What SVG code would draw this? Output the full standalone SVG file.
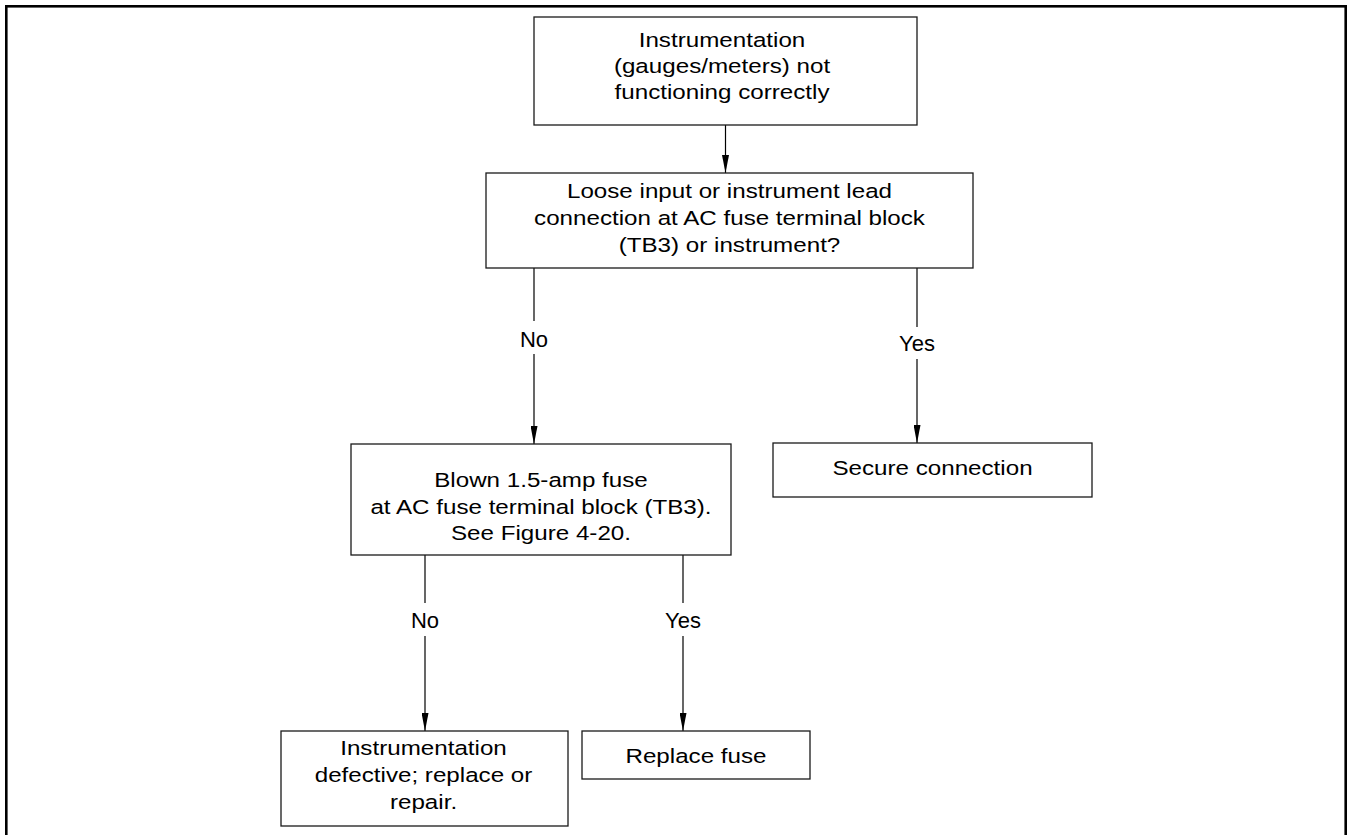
<svg xmlns="http://www.w3.org/2000/svg" width="1349" height="835" viewBox="0 0 1349 835">
<style>
.box{fill:#fff;stroke:#1a1a1a;stroke-width:1.3}
.frame{fill:none;stroke:#000;stroke-width:2.6}
.t{font-family:"Liberation Sans",Arial,sans-serif;font-size:19.5px;fill:#000;text-anchor:middle}
.lbl{font-family:"Liberation Sans",Arial,sans-serif;font-size:22px;fill:#000;text-anchor:middle}
.c{stroke:#000;stroke-width:1.2;fill:none}
</style>
<defs>
<marker id="ah" markerUnits="userSpaceOnUse" markerWidth="8" markerHeight="20" refX="3.5" refY="18" orient="0" viewBox="0 0 8 20">
<path d="M0,0 L3.5,18 L7,0 Z" fill="#000"/>
</marker>
</defs>
<rect class="frame" x="6.3" y="6.3" width="1339.4" height="900"/>
<g id="connectors">
<line class="c" x1="725.5" y1="125" x2="725.5" y2="173" marker-end="url(#ah)"/>
<line class="c" x1="534" y1="268" x2="534" y2="321"/>
<line class="c" x1="534" y1="354" x2="534" y2="444" marker-end="url(#ah)"/>
<text class="lbl" x="534" y="347">No</text>
<line class="c" x1="917" y1="268" x2="917" y2="327"/>
<line class="c" x1="917" y1="359" x2="917" y2="443" marker-end="url(#ah)"/>
<text class="lbl" x="917" y="351">Yes</text>
<line class="c" x1="425" y1="555" x2="425" y2="603"/>
<line class="c" x1="425" y1="636" x2="425" y2="731" marker-end="url(#ah)"/>
<text class="lbl" x="425" y="628">No</text>
<line class="c" x1="683" y1="555" x2="683" y2="603"/>
<line class="c" x1="683" y1="636" x2="683" y2="731" marker-end="url(#ah)"/>
<text class="lbl" x="683" y="628">Yes</text>
</g>
<g id="start">
<rect class="box" x="534" y="17" width="383" height="108"/>
<text class="t" transform="translate(722 47) scale(1.24 1)">Instrumentation</text>
<text class="t" transform="translate(722 73) scale(1.24 1)">(gauges/meters) not</text>
<text class="t" transform="translate(722 99) scale(1.24 1)">functioning correctly</text>
</g>
<g id="q1">
<rect class="box" x="486" y="173" width="487" height="95"/>
<text class="t" transform="translate(729.5 198) scale(1.24 1)">Loose input or instrument lead</text>
<text class="t" transform="translate(729.5 225) scale(1.24 1)">connection at AC fuse terminal block</text>
<text class="t" transform="translate(729.5 252) scale(1.24 1)">(TB3) or instrument?</text>
</g>
<g id="q2">
<rect class="box" x="351" y="444" width="380" height="111"/>
<text class="t" transform="translate(541 487) scale(1.24 1)">Blown 1.5-amp fuse</text>
<text class="t" transform="translate(541 514) scale(1.24 1)">at AC fuse terminal block (TB3).</text>
<text class="t" transform="translate(541 540) scale(1.24 1)">See Figure 4-20.</text>
</g>
<g id="secure">
<rect class="box" x="773" y="443" width="319" height="54"/>
<text class="t" transform="translate(932.5 475) scale(1.24 1)">Secure connection</text>
</g>
<g id="defective">
<rect class="box" x="281" y="731" width="287" height="95"/>
<text class="t" transform="translate(423.5 755) scale(1.24 1)">Instrumentation</text>
<text class="t" transform="translate(423.5 782) scale(1.24 1)">defective; replace or</text>
<text class="t" transform="translate(423.5 809) scale(1.24 1)">repair.</text>
</g>
<g id="replace">
<rect class="box" x="582" y="731" width="228" height="48"/>
<text class="t" transform="translate(696 763) scale(1.24 1)">Replace fuse</text>
</g>
</svg>
